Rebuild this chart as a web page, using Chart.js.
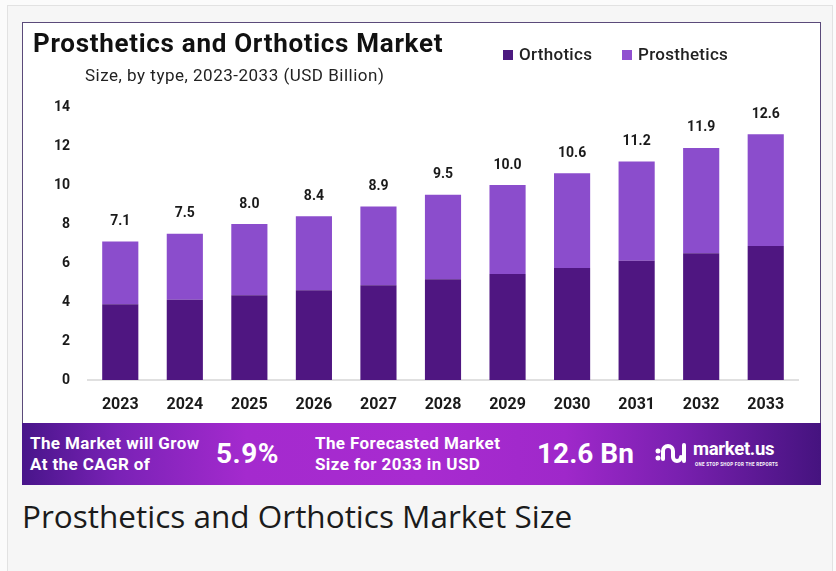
<!DOCTYPE html>
<html>
<head>
<meta charset="utf-8">
<script src="https://cdn.jsdelivr.net/npm/chart.js@4.4.1/dist/chart.umd.min.js"></script>
<style>
  html, body { margin: 0; padding: 0; }
  body {
    width: 836px; height: 571px; position: relative; overflow: hidden;
    background: #fbfbfb; font-family: Roboto, "Noto Sans", sans-serif;
  }
  .outer {
    position: absolute; left: 7px; top: 5px; width: 826px; height: 580px;
    background: #f6f6f6; border: 1px solid #e2e2e2; box-sizing: border-box;
  }
  .card {
    position: absolute; left: 22px; top: 22px; width: 799px; height: 463px;
    background: #fff; border: 1px solid #5b4a7a; box-sizing: border-box;
  }
  .title {
    position: absolute; left: 33px; top: 28px; font-size: 26px; font-weight: 700;
    color: #111; letter-spacing: 0.7px; white-space: nowrap; line-height: 30px;
  }
  .subtitle {
    position: absolute; left: 85px; top: 65px; font-size: 17px; color: #222;
    letter-spacing: 0.5px; white-space: nowrap;
  }
  .legend { position: absolute; top: 44px; font-size: 17px; font-weight: 500; color: #222; letter-spacing: 0.3px; white-space: nowrap; }
  .legend i { display: inline-block; width: 10px; height: 10px; margin-right: 6px; }
  #chartBox { position: absolute; left: 22px; top: 22px; }
  .banner {
    position: absolute; left: 22px; top: 423px; width: 799px; height: 62px; color: #fff;
    background: linear-gradient(90deg, #48158a 0%, #7a22b6 12%, #a42ace 28%, #a82bd0 50%, #9f28ca 68%, #7a20b0 82%, #45137f 100%);
  }
  .banner div { position: absolute; white-space: nowrap; font-weight: 700; }
  .small { font-size: 17px; line-height: 21px; top: 10px; letter-spacing: 0.4px; }
  .big { font-size: 28px; top: 14px; }
  .caption {
    position: absolute; left: 22px; top: 494px; font-family: "Open Sans", sans-serif;
    font-size: 31.5px; color: #1b1b1b; white-space: nowrap;
  }
</style>
</head>
<body>
<div class="outer"></div>
<div class="card"></div>
<div id="chartBox"><canvas id="marketChart" width="799" height="401"></canvas></div>
<div class="title">Prosthetics and Orthotics Market</div>
<div class="subtitle">Size, by type, 2023-2033 (USD Billion)</div>
<div class="legend" style="left:503px"><i style="background:#4c1a80"></i>Orthotics</div>
<div class="legend" style="left:622px"><i style="background:#9050d0"></i>Prosthetics</div>
<div class="banner">
  <div class="small" style="left:8px">The Market will Grow<br>At the CAGR of</div>
  <div class="big" style="left:194px; letter-spacing:0.5px">5.9%</div>
  <div class="small" style="left:293px">The Forecasted Market<br>Size for 2033 in USD</div>
  <div class="big" style="left:515px">12.6 Bn</div>
  <div style="left:633px; top:16px">
    <svg width="34" height="30" viewBox="0 0 34 30">
      <circle cx="3" cy="12" r="2.5" fill="#fff"/>
      <circle cx="3" cy="19" r="2.5" fill="#fff"/>
      <path d="M8 20 V12 a5 5 0 0 1 10 0 V18 a4 4 0 0 0 8 0" stroke="#fff" stroke-width="4" fill="none" stroke-linecap="round"/>
      <path d="M29 6 V22" stroke="#fff" stroke-width="4" stroke-linecap="round"/>
    </svg>
  </div>
  <div style="left:671px; top:15px; font-size:18.5px; letter-spacing:-0.3px">market.us</div>
  <div style="left:673px; top:39px; font-size:4.5px; letter-spacing:0.3px">ONE STOP SHOP FOR THE REPORTS</div>
</div>
<div class="caption">Prosthetics and Orthotics Market Size</div>

<script>
// data
const years = ["2023", "2024", "2025", "2026", "2027", "2028", "2029", "2030", "2031", "2032", "2033"]
const orthotics = [3.88, 4.12, 4.34, 4.6, 4.86, 5.17, 5.44, 5.75, 6.11, 6.5, 6.87]
const prosthetics = [3.22, 3.38, 3.66, 3.8, 4.04, 4.33, 4.56, 4.85, 5.09, 5.4, 5.73]
const totals = [7.1, 7.5, 8.0, 8.4, 8.9, 9.5, 10.0, 10.6, 11.2, 11.9, 12.6]
const yTicks = [0, 2, 4, 6, 8, 10, 12, 14]

// total labels above each stacked bar
const totalLabels = {
  id: "totalLabels",
  afterDatasetsDraw(chart) {
    const ctx = chart.ctx
    const meta = chart.getDatasetMeta(1)
    ctx.save()
    ctx.font = "bold 14px Roboto, sans-serif"
    ctx.fillStyle = "#1a1a1a"
    ctx.textAlign = "center"
    ctx.textBaseline = "middle"
    meta.data.forEach((bar, i) => {
      ctx.fillText(totals[i].toFixed(1), bar.x, bar.y - 20)
    })
    ctx.restore()
  },
}

const ctx = document.getElementById("marketChart").getContext("2d")
new Chart(ctx, {
  type: "bar",
  data: {
    labels: years,
    datasets: [
      { label: "Orthotics", data: orthotics, backgroundColor: "#4f1681" },
      { label: "Prosthetics", data: prosthetics, backgroundColor: "#8b4dcc" },
    ],
  },
  options: {
    responsive: false,
    animation: false,
    devicePixelRatio: 1,
    layout: { padding: { top: 85, right: 23, left: 0, bottom: 0 } },
    datasets: { bar: { categoryPercentage: 1, barPercentage: 0.56 } },
    plugins: { legend: { display: false }, tooltip: { enabled: false } },
    scales: {
      x: {
        stacked: true,
        grid: { display: false, drawTicks: false },
        border: { display: true, color: "#e0e0e0", width: 2 },
        ticks: { padding: 15, color: "#1a1a1a", font: { family: "Roboto", weight: "bold", size: 16 } },
        afterFit: (scale) => { scale.height = 43 },
      },
      y: {
        stacked: true,
        min: 0,
        max: 14,
        grid: { display: false, drawTicks: false },
        border: { display: false },
        afterBuildTicks: (scale) => { scale.ticks = yTicks.map((v) => ({ value: v })) },
        ticks: { padding: 18, color: "#1a1a1a", font: { family: "Roboto", weight: "bold", size: 14 } },
        afterFit: (scale) => { scale.width = 66 },
      },
    },
  },
  plugins: [totalLabels],
})
</script>
</body>
</html>
